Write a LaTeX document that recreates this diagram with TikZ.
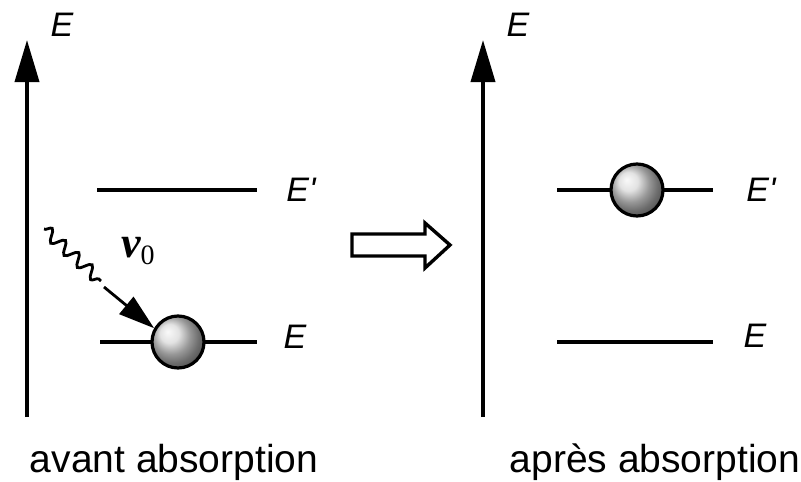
\documentclass[tikz,border=0pt]{standalone}
\usepackage{fontspec}
\setmainfont{Liberation Sans}
\newfontfamily\labfont{Liberation Sans}
\newfontfamily\nufont{Liberation Serif}
\usetikzlibrary{arrows.meta,decorations.pathmorphing,shadings}
\begin{document}
\begin{tikzpicture}[x=1pt,y=-1pt,
  axis/.style={line width=3.8pt,-{Triangle[length=42pt,width=24pt]}},
  level/.style={line width=3.4pt},
  ball/.style={circle,draw,line width=3.2pt,minimum size=52pt,inner sep=0pt,shading=ball,ball color=gray!30},
  elabel/.style={font=\labfont\fontsize{34}{34}\selectfont\itshape,inner sep=0pt},
  caption/.style={font=\fontsize{39}{39}\selectfont,inner sep=0pt},
  hollow/.style={line width=3.4pt,line join=miter,fill=white},
  photon/.style={line width=2.8pt,decorate,decoration={snake,amplitude=6pt,segment length=18pt}},
  photonarrow/.style={line width=2.8pt,-{Triangle[length=36pt,width=22pt]}}]
\useasboundingbox (0,0) rectangle (801,482);
% left panel
\coordinate (a1b) at (27,417);
\coordinate (a1t) at (27,40);
\draw[axis] (a1b) -- (a1t);
\node[elabel] (e1) at (62,25) {E};
\coordinate (l1a) at (97,190);
\coordinate (l1b) at (257,190);
\draw[level] (l1a) -- (l1b);
\node[elabel] (ep1) at (301,190) {E'};
\coordinate (l2a) at (100,342);
\coordinate (l2b) at (257,342);
\draw[level] (l2a) -- (l2b);
\node[elabel] (eg1) at (295,337) {E};
\node[ball] (b1) at (178,342) {};
\coordinate (w1) at (44,229);
\coordinate (w2) at (101,281);
\coordinate (w3) at (104,287);
\draw[photon] (w1) -- (w2);
\draw[photonarrow] (w3) -- (b1.150);
\node[inner sep=0pt,anchor=base west] (nu) at (121,257) {\nufont\fontsize{44}{44}\selectfont\bfseries\itshape ν\raisebox{-7pt}{\fontsize{28}{28}\selectfont\mdseries\upshape 0}};
\node[caption] (c1) at (174,462) {avant absorption};
% transition arrow
\draw[hollow] (352,234) coordinate (h1) -- (425,234) -- (425,223) -- (450,245) coordinate (h2) -- (425,268) -- (425,256) -- (352,256) -- cycle;
% right panel
\coordinate (a2b) at (483,417);
\coordinate (a2t) at (483,40);
\draw[axis] (a2b) -- (a2t);
\node[elabel] (e2) at (518,25) {E};
\coordinate (r1a) at (557,190);
\coordinate (r1b) at (713,190);
\draw[level] (r1a) -- (r1b);
\node[ball] (b2) at (637,190) {};
\node[elabel] (ep2) at (761,190) {E'};
\coordinate (r2a) at (557,342);
\coordinate (r2b) at (713,342);
\draw[level] (r2a) -- (r2b);
\node[elabel] (eg2) at (755,336) {E};
\node[caption] (c2) at (655,462) {après absorption};
\end{tikzpicture}
\end{document}
